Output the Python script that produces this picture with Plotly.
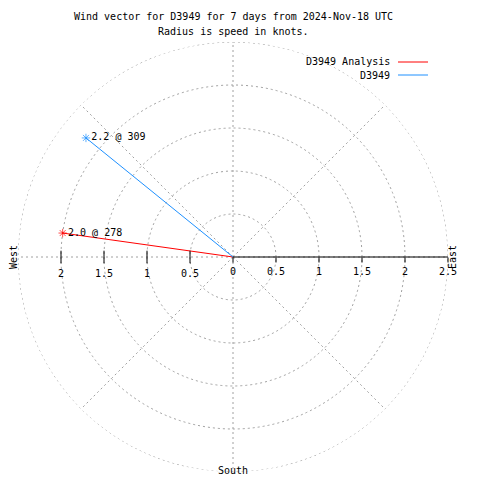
import plotly.graph_objects as go

# ---- data ----
series_names = ["D3949 Analysis", "D3949"]
speeds = [2.0, 2.2]          # knots
directions = [278, 309]      # degrees
colors = ["#ff0000", "#1e90ff"]
point_labels = ["2.0 @ 278", "2.2 @ 309"]
radial_ticks = [0, 0.5, 1, 1.5, 2, 2.5]
radial_ticktext = ["0", "0.5", "1", "1.5", "2", "2.5"]
west_ticks = [0.5, 1, 1.5, 2]
west_ticktext = ["0.5", "1", "1.5", "2"]
outer_r = 2.5
circle_theta = list(range(0, 361, 2))

FONT = "DejaVu Sans Mono"
W = H = 480
ML, MR, MT, MB = 18, 32, 42, 8
PW, PH = W - ML - MR, H - MT - MB

def px(x):
    return (x - ML) / PW

def py(y):
    return (H - MB - y) / PH

grid = "#a0a0a0"
fig = go.Figure()

# outer dashed grid circle
fig.add_trace(go.Scatterpolar(
    r=[outer_r] * len(circle_theta), theta=circle_theta, mode="lines",
    line=dict(color=grid, width=1, dash="2px,3px"),
    showlegend=False, hoverinfo="skip",
))

for name, s, d, c, lab in zip(series_names, speeds, directions, colors, point_labels):
    fig.add_trace(go.Scatterpolar(
        r=[0, s], theta=[0, d], mode="lines+markers+text",
        line=dict(color=c, width=1),
        marker=dict(symbol="asterisk-open", size=[0, 7], color=c, line=dict(color=c, width=1)),
        text=["", lab], textposition="middle right",
        textfont=dict(family=FONT, size=10, color="black"),
        name=name, showlegend=False,
    ))

# west side tick marks
fig.add_trace(go.Scatterpolar(
    r=west_ticks, theta=[270] * len(west_ticks), mode="markers",
    marker=dict(symbol="line-ns-open", size=9, color="black", line=dict(color="black", width=1)),
    showlegend=False, hoverinfo="skip",
))
# west side labels
fig.add_trace(go.Scatterpolar(
    r=west_ticks, theta=[270] * len(west_ticks), mode="markers+text",
    marker=dict(size=18, color="rgba(0,0,0,0)"),
    text=west_ticktext, textposition="bottom center",
    textfont=dict(family=FONT, size=10, color="black"),
    showlegend=False, hoverinfo="skip",
))

fig.update_layout(
    width=W, height=H,
    margin=dict(l=ML, r=MR, t=MT, b=MB),
    paper_bgcolor="white",
    font=dict(family=FONT, size=10, color="black"),
    polar=dict(
        bgcolor="white",
        domain=dict(x=[0, 1], y=[0, 1]),
        radialaxis=dict(
            range=[0, 2.5], tickvals=radial_ticks, ticktext=radial_ticktext,
            angle=0, side="clockwise",
            showline=True, linecolor="black", linewidth=1,
            ticks="outside", ticklen=5, tickcolor="black",
            gridcolor=grid, griddash="2px,3px", gridwidth=1,
            tickfont=dict(family=FONT, size=10, color="black"),
        ),
        angularaxis=dict(
            rotation=90, direction="clockwise", dtick=45,
            showticklabels=False, ticks="",
            showline=False,
            gridcolor=grid, griddash="2px,3px", gridwidth=1,
        ),
    ),
)

ann = [
    dict(text="Wind vector for D3949 for 7 days from 2024-Nov-18 UTC", x=px(233), y=py(17)),
    dict(text="Radius is speed in knots.", x=px(233), y=py(32)),
    dict(text="South", x=px(233), y=py(470)),
    dict(text="West", x=px(13), y=py(257), textangle=-90),
    dict(text="East", x=px(452), y=py(257), textangle=-90),
    dict(text="D3949 Analysis", x=px(392), y=py(62), xanchor="right"),
    dict(text="D3949", x=px(392), y=py(75), xanchor="right"),
]
for a in ann:
    a.setdefault("xanchor", "center")
    fig.add_annotation(xref="paper", yref="paper", showarrow=False,
                       yanchor="middle", font=dict(family=FONT, size=10, color="black"), **a)

for c, yy in zip(colors, [62, 75]):
    fig.add_shape(type="line", xref="paper", yref="paper",
                  x0=px(398), x1=px(428), y0=py(yy), y1=py(yy),
                  line=dict(color=c, width=1))

fig.write_html("out.html", config={"displayModeBar": False},
               post_script="document.body.style.margin='0px';")
